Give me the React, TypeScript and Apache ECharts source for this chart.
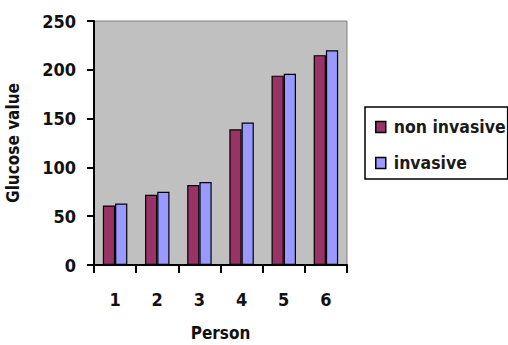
import React, { useEffect, useRef } from "react";
import * as echarts from "echarts";

const categories = ["1", "2", "3", "4", "5", "6"];
const nonInvasive = [61, 72, 82, 139, 194, 215];
const invasive = [63, 75, 85, 146, 196, 220];
const yTicks = { min: 0, max: 250, interval: 50 };

const FONT = "'DejaVu Sans Condensed', 'DejaVu Sans', sans-serif";

export default function App() {
  const ref = useRef<HTMLDivElement>(null);
  useEffect(() => {
    if (!ref.current) return;
    const chart = echarts.init(ref.current, undefined, { renderer: "svg" });
    chart.setOption({
      animation: false,
      backgroundColor: "#ffffff",
      grid: {
        left: 94,
        top: 21,
        width: 253,
        height: 244,
        show: true,
        containLabel: false,
        outerBoundsMode: "none",
        backgroundColor: "#C0C0C0",
        borderColor: "#808080",
        borderWidth: 1,
      },
      legend: {
        orient: "vertical",
        left: 365,
        top: 107,
        padding: [10, 2, 6, 10],
        itemGap: 16,
        itemWidth: 10,
        itemHeight: 11,
        borderColor: "#000",
        borderWidth: 1.5,
        icon: "rect",
        itemStyle: { borderColor: "#000", borderWidth: 1.5 },
        textStyle: { fontFamily: FONT, fontSize: 17.5, fontWeight: "bold", color: "#1a1a1a", lineHeight: 20, padding: [0, 0, 0, 3] },
        data: ["non invasive", "invasive"],
      },
      xAxis: {
        type: "category",
        data: categories,
        name: "Person",
        nameLocation: "middle",
        nameGap: 59,
        nameTextStyle: { fontFamily: FONT, fontSize: 17, fontWeight: "bold", color: "#111" },
        axisLine: { lineStyle: { color: "#000", width: 2 } },
        axisTick: { show: true, alignWithLabel: false, length: 8, lineStyle: { color: "#000", width: 2 } },
        axisLabel: { margin: 25, fontFamily: FONT, fontSize: 18, fontWeight: "bold", color: "#111" },
      },
      yAxis: {
        type: "value",
        min: yTicks.min,
        max: yTicks.max,
        interval: yTicks.interval,
        name: "Glucose value",
        nameLocation: "middle",
        nameGap: 73,
        nameRotate: 90,
        nameTextStyle: { fontFamily: FONT, fontSize: 17, fontWeight: "bold", color: "#111" },
        splitLine: { show: false },
        axisLine: { show: true, lineStyle: { color: "#000", width: 2 } },
        axisTick: { show: true, length: 7, lineStyle: { color: "#000", width: 2 } },
        axisLabel: { margin: 18, fontFamily: FONT, fontSize: 18, fontWeight: "bold", color: "#111" },
      },
      series: [
        {
          name: "non invasive",
          type: "bar",
          data: nonInvasive,
          barGap: "0%",
          barCategoryGap: "42%",
          itemStyle: { color: "#993366", borderColor: "#000", borderWidth: 1.2 },
        },
        {
          name: "invasive",
          type: "bar",
          data: invasive,
          barGap: "0%",
          barCategoryGap: "42%",
          itemStyle: { color: "#9999FF", borderColor: "#000", borderWidth: 1.2 },
        },
      ],
    });
    return () => chart.dispose();
  }, []);
  return (
    <div
      ref={ref}
      style={{ position: "fixed", left: 0, top: 0, width: 508, height: 345 }}
    />
  );
}
